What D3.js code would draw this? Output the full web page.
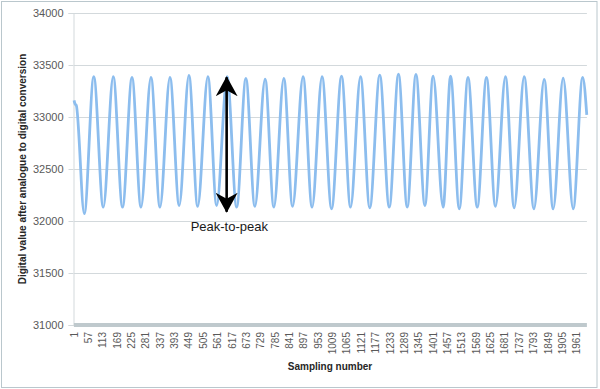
<!DOCTYPE html>
<html>
<meta charset="utf-8">
<style>
  body { margin: 0; background: #fff; }
  text { font-family: "Liberation Sans", Arial, sans-serif; fill: #595959; }
  .grid line { stroke: #d3d9dc; stroke-width: 1; }
  .signal { fill: none; stroke: #8cbdee; stroke-width: 2.8; stroke-linejoin: round; }
</style>
<body>
  <script src="https://d3js.org/d3.v7.min.js"></script>
  <script>
    let width = 600,
      height = 389;

    // sample numbers on the category axis
    let sampleCount = 2000;
    let tickStep = 56;

    // turning points of the ADC signal (sample number, value)
    let turnSamples = [1, 5, 10, 41,
      78, 115, 154, 190, 227, 262, 301, 336, 375, 411, 449, 483, 523, 557, 598, 635,
      671, 706, 746, 780, 819, 853, 894, 929, 968, 1005, 1044, 1079, 1118, 1154, 1193, 1230,
      1266, 1300, 1334, 1369, 1401, 1440, 1469, 1503, 1537, 1573, 1609, 1644, 1683, 1717,
      1756, 1794, 1834, 1869, 1908, 1947, 1984, 2000];
    let turnValues = [33160, 33125, 33110, 32070,
      33387, 32133, 33387, 32133, 33380, 32133, 33380, 32133, 33380, 32149, 33399, 32140,
      33387, 32149, 33387, 32133, 33370, 32140, 33363, 32133, 33370, 32140, 33387, 32133,
      33387, 32117, 33392, 32133, 33387, 32127, 33402, 32133, 33412, 32133, 33409, 32149,
      33392, 32133, 33392, 32117, 33380, 32133, 33380, 32140, 33387, 32127, 33387, 32117,
      33361, 32117, 33373, 32117, 33380, 33020];

    let yTicks = [31000, 31500, 32000, 32500, 33000, 33500, 34000];

    // peak-to-peak annotation
    let arrowSample = 596;
    let arrowTop = 33382, arrowBottom = 32089;
    let arrowLabel = "Peak-to-peak";

    let margin = { left: 73.9, right: 13.1, top: 13, bottom: 64 };

    let svg = d3.select("body").append("svg")
      .attr("width", width)
      .attr("height", height);

    // outer chart frame
    svg.append("rect")
      .attr("x", 1.5).attr("y", 1.5)
      .attr("width", 595.5).attr("height", 386)
      .attr("fill", "none")
      .attr("stroke", "#bac7cd");

    let samples = d3.range(1, sampleCount + 1);
    let x = d3.scaleBand()
      .domain(samples)
      .range([margin.left, width - margin.right]);
    let y = d3.scaleLinear()
      .domain([31000, 34000])
      .range([height - margin.bottom, margin.top]);

    let cx = s => x(s) + x.bandwidth() / 2;

    // horizontal gridlines
    svg.append("g").attr("class", "grid")
      .selectAll("line")
      .data(yTicks.slice(1))
      .join("line")
      .attr("x1", margin.left).attr("x2", width - margin.right)
      .attr("y1", d => Math.round(y(d)) + 0.5).attr("y2", d => Math.round(y(d)) + 0.5);

    // y axis
    let yAxis = svg.append("g")
      .attr("transform", `translate(${margin.left - 0.4},0)`)
      .call(d3.axisLeft(y).tickValues(yTicks).tickSize(5).tickPadding(5).tickFormat(d3.format("d")));
    yAxis.select(".domain").attr("stroke", "#d3d9dc");
    yAxis.selectAll(".tick line").attr("stroke", "#d3d9dc");
    yAxis.selectAll(".tick text").attr("font-size", 11).attr("fill", "#595959")
      .attr("font-family", "Liberation Sans, Arial, sans-serif");

    // base line of the category axis
    svg.append("line")
      .attr("x1", margin.left).attr("x2", width - margin.right)
      .attr("y1", y(31000)).attr("y2", y(31000))
      .attr("stroke", "#bfc9cd").attr("stroke-width", 4);

    // x tick labels
    let xTicks = samples.filter(s => (s - 1) % tickStep === 0);
    svg.append("g")
      .selectAll("text")
      .data(xTicks)
      .join("text")
      .attr("transform", d => `translate(${cx(d)},${y(31000) + 7}) rotate(-90)`)
      .attr("text-anchor", "end")
      .attr("dy", "0.35em")
      .attr("font-size", 10)
      .text(d => d);

    // signal
    let pts = turnSamples.map((s, i) => [cx(s), y(turnValues[i])]);
    svg.append("path")
      .attr("class", "signal")
      .attr("d", d3.line().curve(d3.curveMonotoneX)(pts));

    // axis titles
    svg.append("text")
      .attr("x", 330).attr("y", 370)
      .attr("text-anchor", "middle")
      .attr("font-size", 10).attr("font-weight", "bold")
      .style("fill", "#262626")
      .text("Sampling number");

    svg.append("text")
      .attr("transform", `translate(25.5,${(y(31000) + y(34000)) / 2}) rotate(-90)`)
      .attr("text-anchor", "middle")
      .attr("font-size", 10).attr("font-weight", "bold")
      .style("fill", "#262626")
      .text("Digital value after analogue to digital conversion");

    // double headed arrow
    let defs = svg.append("defs");
    defs.append("marker")
      .attr("id", "head")
      .attr("viewBox", "0 0 20 22")
      .attr("refX", 19).attr("refY", 11)
      .attr("markerWidth", 20).attr("markerHeight", 22)
      .attr("markerUnits", "userSpaceOnUse")
      .attr("orient", "auto-start-reverse")
      .append("path")
      .attr("d", "M0,0 L20,11 L0,22 L6,11 Z")
      .attr("fill", "#000");

    svg.append("line")
      .attr("x1", cx(arrowSample)).attr("x2", cx(arrowSample))
      .attr("y1", y(arrowTop)).attr("y2", y(arrowBottom))
      .attr("stroke", "#000").attr("stroke-width", 2.6)
      .attr("marker-start", "url(#head)")
      .attr("marker-end", "url(#head)");

    svg.append("text")
      .attr("x", cx(arrowSample) - 36).attr("y", 231)
      .attr("font-size", 13)
      .style("fill", "#1a1a1a")
      .text(arrowLabel);
  </script>
</body>
</html>
